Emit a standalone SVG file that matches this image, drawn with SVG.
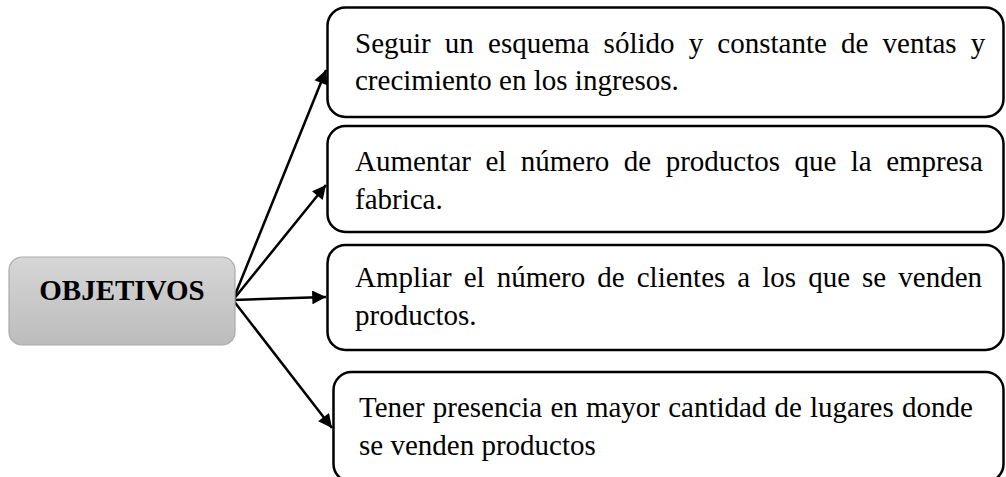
<svg xmlns="http://www.w3.org/2000/svg" width="1006" height="477" viewBox="0 0 1006 477">
<style>
.box{fill:#fff;stroke:#000;stroke-width:2.5}
.t{font-family:"Liberation Serif","Times New Roman",serif;font-size:29px;fill:#000}
.b{font-weight:bold}
.c{stroke:#000;stroke-width:2.5;fill:none;marker-end:url(#ah)}
</style>
<defs>
<linearGradient id="g" x1="0" y1="0" x2="0" y2="1">
<stop offset="0" stop-color="#d6d6d6"/>
<stop offset="1" stop-color="#bcbcbc"/>
</linearGradient>
<marker id="ah" viewBox="0 0 10 10" refX="10" refY="5" markerWidth="7" markerHeight="5.5" orient="auto" markerUnits="strokeWidth">
<path d="M0,0 L10,5 L0,10 z" fill="#000"/>
</marker>
</defs>
<g id="connectors">
<line class="c" x1="233" y1="300" x2="326" y2="70"/>
<line class="c" x1="233" y1="300" x2="326" y2="185"/>
<line class="c" x1="233" y1="300" x2="326" y2="297"/>
<line class="c" x1="233" y1="300" x2="332" y2="428"/>
</g>
<g id="objetivos">
<rect x="9" y="257" width="226" height="88" rx="13" fill="url(#g)" stroke="#aaaaaa" stroke-width="1.2"/>
<text class="t b" x="122" y="300" text-anchor="middle">OBJETIVOS</text>
</g>
<g id="obj1">
<rect class="box" x="327.5" y="7.5" width="676" height="109.5" rx="18"/>
<text class="t" x="355" y="53" word-spacing="6.9">Seguir un esquema sólido y constante de ventas y</text>
<text class="t" x="355" y="90">crecimiento en los ingresos.</text>
</g>
<g id="obj2">
<rect class="box" x="327.5" y="126" width="676" height="106" rx="18"/>
<text class="t" x="355" y="171" word-spacing="7.2">Aumentar el número de productos que la empresa</text>
<text class="t" x="355" y="209">fabrica.</text>
</g>
<g id="obj3">
<rect class="box" x="327.5" y="245" width="676" height="105" rx="18"/>
<text class="t" x="355" y="287" word-spacing="4.8">Ampliar el número de clientes a los que se venden</text>
<text class="t" x="355" y="325">productos.</text>
</g>
<g id="obj4">
<rect class="box" x="333.5" y="372" width="670" height="110" rx="18"/>
<text class="t" x="359" y="417" word-spacing="0.9">Tener presencia en mayor cantidad de lugares donde</text>
<text class="t" x="359" y="455">se venden productos</text>
</g>
</svg>
